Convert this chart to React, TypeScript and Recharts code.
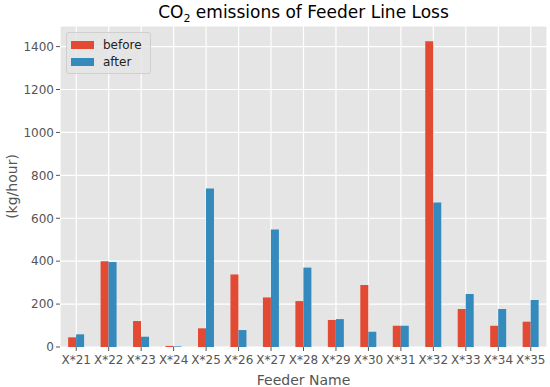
import { BarChart, Bar, XAxis, YAxis, CartesianGrid } from 'recharts'

const feeders = ['X*21', 'X*22', 'X*23', 'X*24', 'X*25', 'X*26', 'X*27', 'X*28', 'X*29', 'X*30', 'X*31', 'X*32', 'X*33', 'X*34', 'X*35']
const beforeValues = [45, 400, 121, 5, 87, 338, 231, 214, 126, 289, 99, 1425, 177, 99, 118]
const afterValues = [59, 396, 48, 3, 739, 79, 548, 370, 130, 71, 99, 674, 247, 177, 219]
const yTicks = [0, 200, 400, 600, 800, 1000, 1200, 1400]

const RED = '#E24A33'
const BLUE = '#348ABD'
const FONT = '"DejaVu Sans", sans-serif'

const data = feeders.map((name, i) => ({ name, before: beforeValues[i], after: afterValues[i] }))

function LegendBox() {
  const items = [
    { label: 'before', color: RED },
    { label: 'after', color: BLUE },
  ]
  return (
    <div
      style={{
        position: 'absolute',
        left: 66,
        top: 32,
        background: 'rgba(229,229,229,0.8)',
        border: '1px solid #cfcfcf',
        borderRadius: 3,
        padding: '3px 8px 3px 4px',
        fontFamily: FONT,
        fontSize: 12,
        color: '#222',
      }}
    >
      {items.map((it) => (
        <div key={it.label} style={{ display: 'flex', alignItems: 'center', height: 17 }}>
          <span style={{ display: 'inline-block', width: 23, height: 8, background: it.color, marginRight: 9 }} />
          <span>{it.label}</span>
        </div>
      ))}
    </div>
  )
}

export default function App() {
  return (
    <div style={{ position: 'fixed', left: 0, top: 0, width: 550, height: 387, background: '#fff' }}>
      <div
        style={{
          position: 'absolute',
          top: 0,
          left: 60,
          width: 487,
          textAlign: 'center',
          fontFamily: FONT,
          fontSize: 17,
          lineHeight: '24px',
          color: '#000',
        }}
      >
        CO<sub style={{ fontSize: 11, lineHeight: 0 }}>2</sub> emissions of Feeder Line Loss
      </div>
      <BarChart
        width={550}
        height={387}
        data={data}
        margin={{ top: 26, right: 3, left: 0, bottom: 0 }}
        barCategoryGap="25%"
        barGap={0}
      >
        <CartesianGrid stroke="#ffffff" strokeWidth={1.2} fill="#E5E5E5" fillOpacity={1} />
        <XAxis
          dataKey="name"
          height={40}
          axisLine={false}
          tickLine={{ stroke: '#555' }}
          tickSize={4}
          tickMargin={4}
          interval={0}
          tick={{ fill: '#555', fontSize: 12, fontFamily: FONT }}
          label={{ value: 'Feeder Name', position: 'insideBottom', offset: 2, fill: '#555', fontSize: 14, fontFamily: FONT }}
        />
        <YAxis
          width={60}
          domain={[0, 1496]}
          allowDataOverflow
          ticks={yTicks}
          axisLine={false}
          tickLine={{ stroke: '#555' }}
          tickSize={4}
          tick={{ fill: '#555', fontSize: 12, fontFamily: FONT }}
          label={{ value: '(kg/hour)', angle: -90, position: 'insideLeft', offset: 12, fill: '#555', fontSize: 14, fontFamily: FONT, style: { textAnchor: 'middle' } }}
        />
        <Bar dataKey="before" name="before" fill={RED} isAnimationActive={false} />
        <Bar dataKey="after" name="after" fill={BLUE} isAnimationActive={false} />
      </BarChart>
      <LegendBox />
    </div>
  )
}
